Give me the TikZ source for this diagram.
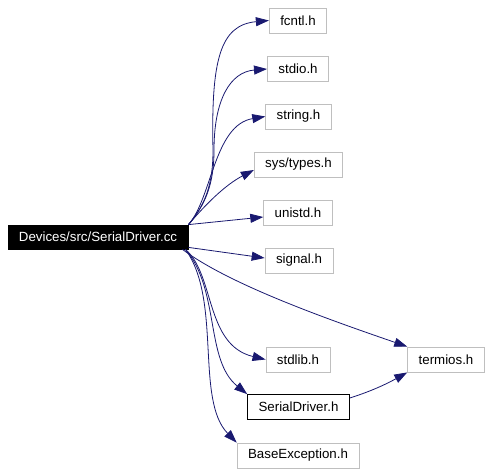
\documentclass[tikz,border=0pt]{standalone}
\usepackage{fontspec}
\setmainfont{Liberation Sans}
\usetikzlibrary{arrows.meta}
\definecolor{edgeblue}{HTML}{191970}
\definecolor{boxgray}{HTML}{BFBFBF}
\begin{document}
\begin{tikzpicture}[x=1pt,y=-1pt,
  hdr/.style={draw=boxgray, line width=0.8pt, fill=white, inner xsep=11pt, minimum height=25pt, font=\fontsize{13.3}{16}\selectfont},
  dep/.style={draw=edgeblue, line width=0.8pt, -{Triangle[length=13pt,width=9pt]}}]
\useasboundingbox (0,0) rectangle (492,474);
\node[hdr, draw=black, fill=black, text=white, minimum height=24pt] (src) at (98,237) {Devices/src/SerialDriver.cc};
\foreach \n/\x/\y/\l in {fcntl/298/20.5/fcntl.h, stdio/298/69/stdio.h, string/298.5/116.5/string.h,
    unistd/298/213/unistd.h, signal/299/260.5/signal.h, stdlib/298/359.5/stdlib.h,
    termios/446/359.5/termios.h, baseexc/298/455.5/BaseException.h} {
  \node[hdr] (\n) at (\x,\y) {\l};
}
\node[hdr] (systypes) at (298.5,164.5) {sys/types.h};
\node[hdr, draw=black] (serialh) at (298.5,407) {SerialDriver.h};
% includes of the source file
\draw[dep] (src.north east) .. controls (205,205) and (213,185) .. (213,150) .. controls (211,60) and (220,25) .. (fcntl.west);
\draw[dep] (src.north east) .. controls (205,205) and (214,185) .. (214,150) .. controls (214,100) and (230,72) .. (stdio.west);
\draw[dep] (src.north east) .. controls (212,198) and (214,125) .. (string.west);
\draw[dep] (src.north east) .. controls (205,205) and (225,185) .. ([yshift=-5.5pt]systypes.west);
\draw[dep] (src.north east) -- ([yshift=-4pt]unistd.west);
\draw[dep] ([yshift=2pt]src.south east) -- ([yshift=2.5pt]signal.west);
\draw[dep] ([xshift=-6pt]src.south east) .. controls (230,285) and (330,320) .. (termios.north west);
\draw[dep] ([xshift=-3pt]src.south east) .. controls (215,275) and (205,345) .. (stdlib.west);
\draw[dep] ([xshift=-3pt]src.south east) .. controls (220,290) and (205,360) .. (serialh.north west);
\draw[dep] ([xshift=-3pt]src.south east) .. controls (222,300) and (195,400) .. (baseexc.north west);
% include of the header
\draw[dep] ([yshift=9pt]serialh.east) .. controls (375,390) and (390,382) .. (termios.south west);
\end{tikzpicture}
\end{document}
